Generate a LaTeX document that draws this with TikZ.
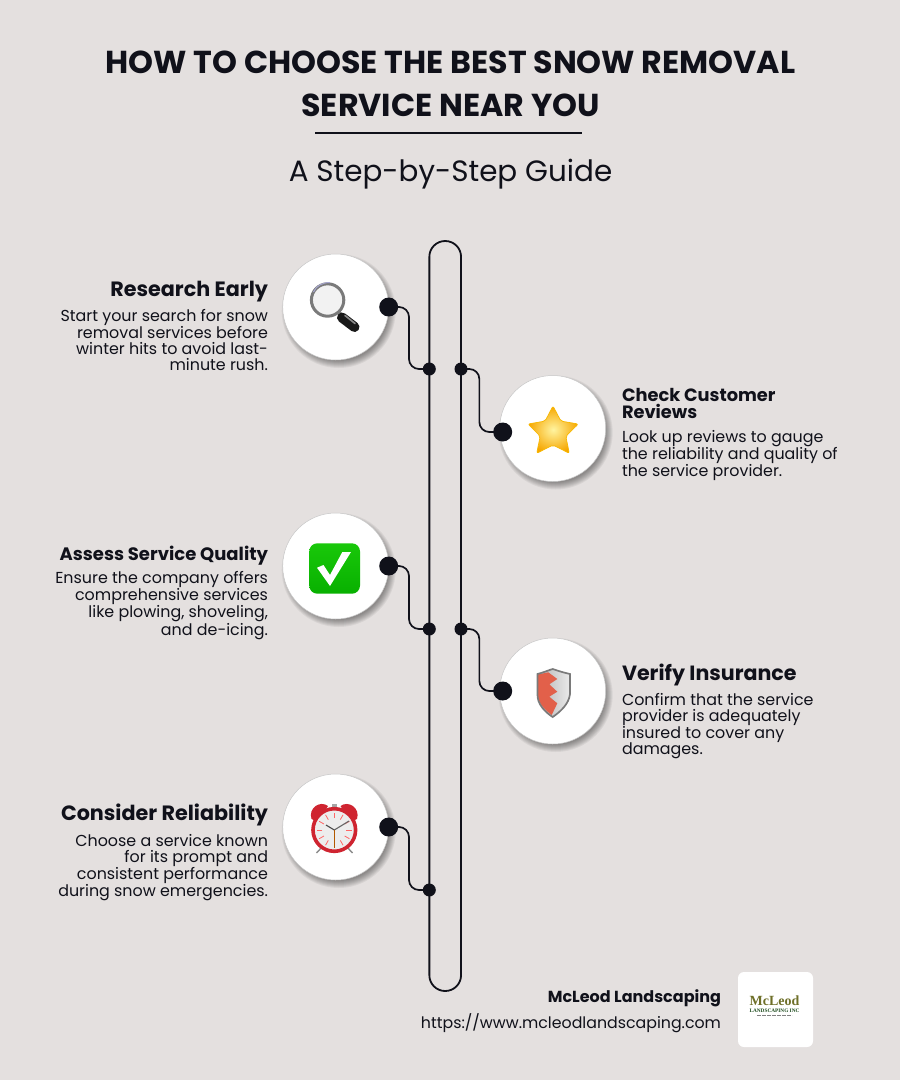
\documentclass[tikz,border=0pt]{standalone}
\usepackage{fontspec}
\setmainfont{Poppins}
\usetikzlibrary{calc}
\definecolor{bgc}{HTML}{E4E0DF}
\definecolor{ink}{HTML}{10111A}
\definecolor{clockred}{HTML}{CF2430}
\definecolor{shieldred}{HTML}{E2604A}
\definecolor{starin}{HTML}{FFF4A0}
\definecolor{starout}{HTML}{F6A600}
\definecolor{checktop}{HTML}{19C80A}
\definecolor{checkbot}{HTML}{08B000}
\definecolor{logotan}{HTML}{6E6F28}
\definecolor{logogreen}{HTML}{1F4D1F}
\newcommand\fs[2]{\fontsize{#1}{#2}\selectfont}
\tikzset{
  x=1pt,y=-1pt,
  txt/.style={inner sep=0pt,outer sep=0pt,text=ink},
  titleline/.style={txt,anchor=base,font=\bfseries\fs{31.7}{36}},
  headR/.style={txt,anchor=base east,align=right,font=\bfseries\fs{#1}{17}},
  headL/.style={txt,anchor=base west,align=left,font=\bfseries\fs{#1}{17}},
  bodyR/.style={txt,anchor=north east,align=right,font=\fs{15.9}{16}},
  bodyL/.style={txt,anchor=north west,align=left,font=\fs{15.9}{16}},
  bigdot/.style={circle,fill=ink,draw=none,minimum size=19pt,inner sep=0pt},
  smalldot/.style={circle,fill=ink,draw=none,minimum size=13pt,inner sep=0pt},
  wire/.style={draw=ink,line width=1.7pt,rounded corners=10pt},
  rail/.style={draw=ink,line width=1.8pt,rounded corners=15.8pt,rectangle,minimum width=31.7pt,minimum height=750pt,inner sep=0pt},
  disc/.style={circle,fill=white,draw=black!22,line width=0.5pt,minimum size=106pt,inner sep=0pt},
  haze/.style={circle,fill=black,opacity=0.055,draw=none,inner sep=0pt},
}
\newcommand\stepdisc[3]{%
  \foreach \r in {100,102,104,106,108,110,112,114}{
    \node[haze,minimum size=\r pt] at (#2+3,#3+4) {};}
  \node[disc] (#1) at (#2,#3) {};}
\begin{document}
\begin{tikzpicture}
\useasboundingbox (0,0) rectangle (900,1080);
\fill[bgc] (0,0) rectangle (900,1080);

% title
\node[titleline] (t1) at (450.5,73.5) {HOW TO CHOOSE THE BEST SNOW REMOVAL};
\node[titleline] (t2) at (450.5,116.5) {SERVICE NEAR YOU};
\coordinate (ruleA) at (315,132.5);
\coordinate (ruleB) at (582,132.5);
\draw[ink,line width=2pt] (ruleA) -- (ruleB);
\node[txt,anchor=base,font=\fs{29.4}{36}] (sub) at (450.5,181) {A Step-by-Step Guide};

% discs
\stepdisc{d1}{335.7}{307}
\stepdisc{d2}{552.7}{428.5}
\stepdisc{d3}{335.7}{566}
\stepdisc{d4}{552.7}{691}
\stepdisc{d5}{335.7}{827}

% rail
\node[rail] (railnode) at (445.2,616) {};

% dots
\node[bigdot] (b1) at (388.7,307) {};
\node[bigdot] (b2) at (502.7,432) {};
\node[bigdot] (b3) at (388.7,566) {};
\node[bigdot] (b4) at (502.7,691) {};
\node[bigdot] (b5) at (388.7,827) {};
\node[smalldot] (s1) at (429.3,369) {};
\node[smalldot] (s2) at (461,369) {};
\node[smalldot] (s3) at (429.3,629) {};
\node[smalldot] (s4) at (461,629) {};
\node[smalldot] (s5) at (429.3,890) {};

% connectors
\draw[wire] (b1.center) -| ($(b1)!0.5!(s1)$) |- (s1.center);
\draw[wire] (s2.center) -| ($(s2)!0.44!(b2)$) |- (b2.center);
\draw[wire] (b3.center) -| ($(b3)!0.5!(s3)$) |- (s3.center);
\draw[wire] (s4.center) -| ($(s4)!0.44!(b4)$) |- (b4.center);
\draw[wire] (b5.center) -| ($(b5)!0.5!(s5)$) |- (s5.center);

% left text
\node[headR=20.7] (h1) at (268,296) {Research Early};
\node[bodyR] (p1) at (268,309) {Start your search for snow\\removal services before\\winter hits to avoid last-\\minute rush.};
\node[headR=18] (h3) at (268,560) {Assess Service Quality};
\node[bodyR] (p3) at (268,571) {Ensure the company offers\\comprehensive services\\like plowing, shoveling,\\and de-icing.};
\node[headR=20.7] (h5) at (268,820) {Consider Reliability};
\node[bodyR] (p5) at (268,834) {Choose a service known\\for its prompt and\\consistent performance\\during snow emergencies.};

% right text
\node[headL=17.8] (h2) at (622,418) {Check Customer\\Reviews};
\node[bodyL] (p2) at (622,430) {Look up reviews to gauge\\the reliability and quality of\\the service provider.};
\node[headL=20.6] (h4) at (622,680) {Verify Insurance};
\node[bodyL] (p4) at (622,693) {Confirm that the service\\provider is adequately\\insured to cover any\\damages.};

% footer
\node[txt,anchor=base east,font=\bfseries\fs{16}{20}] (f1) at (721,1002) {McLeod Landscaping};
\node[txt,anchor=base east,font=\fs{15.8}{20}] (f2) at (721,1028) {https://www.mcleodlandscaping.com};
\draw[draw=none,fill=white,rounded corners=6pt] (738,972) rectangle (813,1047);
\node[inner sep=0pt,anchor=base,text=logotan,font=\fontspec{Liberation Serif}\bfseries\fs{14}{14}] (l1) at (774.5,1005.5) {McLeod};
\node[inner sep=0pt,anchor=base,text=logogreen,font=\fontspec{Liberation Serif}\bfseries\fs{5.3}{7}] (l2) at (774.5,1012) {LANDSCAPING INC};
\coordinate (l3a) at (757,1015);
\coordinate (l3b) at (792,1015);
\draw[black!50,line width=0.8pt,dash pattern=on 4pt off 1pt] (l3a) -- (l3b);

% icon: magnifier
\draw[line width=3pt,black!45] (339,312) -- (343,317);
\draw[line cap=round,line width=10pt,black!90] (342,317.5) -- (354.5,327);
\draw[line cap=round,line width=1.6pt,black!45] (345,315.5) -- (355,323.5);
\draw[draw=black!52,line width=3pt,fill=black!5] (327.6,300) circle (16.2);
\draw[draw=blue!45!black!35,line width=1pt] (313.5,292) .. controls (316,286) and (322,282.5) .. (330,282.5);

% icon: star
\path[rounded corners=2pt,draw=starout!80!yellow,line width=0.7pt,inner color=starin,outer color=starout]
  (553,406) -- (560.9,421.1) -- (578.3,424) -- (565.8,436.2) -- (569.3,453.3) -- (553,445) -- (536.7,453.3) -- (540.2,436.2) -- (528,424) -- (545.1,421.1) -- cycle;

% icon: check
\shade[rounded corners=8pt,top color=checktop,bottom color=checkbot]
  (309.3,543.3) rectangle (360,593.7);
\fill[white] (317,567.7) -- (323.5,565) -- (330,575) -- (342.3,552) -- (351,552) -- (330,586) -- cycle;

% icon: shield
\shade[left color=black!30,right color=black!8] (537.5,674) .. controls (545,672) and (549,670) .. (552.7,669) .. controls (556,670) and (561,672) .. (570,674) -- (570,694) .. controls (569,704) and (560,712) .. (552.7,717) .. controls (545,712) and (537,704) .. (537.5,694) -- cycle;
\fill[shieldred] (538,674.5) -- (548.3,672.3) -- (557.3,679) -- (549.3,684.3) -- (557.3,691.7) -- (549.3,696.7) -- (557.3,703.3) -- (551.7,715) .. controls (545,710) and (537.5,703) .. (538,694) -- cycle;
\draw[draw=black!52,line width=1.7pt] (537.5,674) .. controls (545,672) and (549,670) .. (552.7,669) .. controls (556,670) and (561,672) .. (570,674) -- (570,694) .. controls (569,704) and (560,712) .. (552.7,717) .. controls (545,712) and (537,704) .. (537.5,694) -- cycle;

% icon: clock
\fill[clockred] (311.5,819) .. controls (308,808) and (320,800) .. (328,806) -- (318,822) -- cycle;
\fill[clockred] (357,819) .. controls (360.5,808) and (348.5,800) .. (340.5,806) -- (350.5,822) -- cycle;
\draw[black!45,line width=1.4pt] (322,847) -- (316.5,853);
\draw[black!45,line width=1.4pt] (347,847) -- (352.5,853);
\fill[black!35] (331.7,804) rectangle (337,808);
\draw[draw=clockred,line width=3.6pt,fill=black!7] (334.3,830) circle (21.3);
\foreach \a in {0,30,...,330}
  \draw[red!60!white,line width=0.8pt] ($(334.3,830)+(\a:12)$) -- ($(334.3,830)+(\a:17.5)$);
\draw[black!70,line width=1.1pt] (334.3,830) -- (326,825);
\draw[black!60,line width=1.1pt] (334.3,830) -- (349,821);
\draw[orange!70!black,line width=0.5pt] (334.3,830) -- (334.3,848);
\end{tikzpicture}
\end{document}
